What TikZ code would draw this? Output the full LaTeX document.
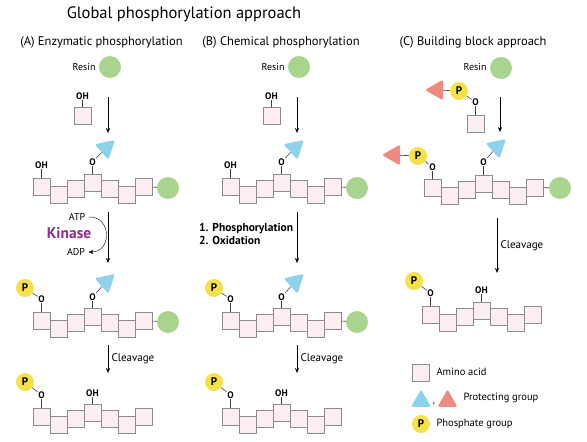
\documentclass[tikz,border=0pt]{standalone}
\usepackage{fontspec}
\setmainfont{PT Sans}
\usetikzlibrary{shapes.geometric,arrows.meta}

\definecolor{aafill}{HTML}{FCEEF0}
\definecolor{aadraw}{HTML}{8C8C8C}
\definecolor{resincol}{HTML}{A9D48E}
\definecolor{protblue}{HTML}{8ED1EC}
\definecolor{protred}{HTML}{EE8A80}
\definecolor{phoscol}{HTML}{F6E14B}
\definecolor{kinasecol}{HTML}{8B2C90}

% seven amino acids in a zigzag: name, left x, top y
\newcommand{\peptide}[3]{%
  \foreach \i/\dy in {1/0,2/8,3/2,4/-4,5/2,6/8,7/0}{
    \node[aa] (#1\i) at ({#2+8.5+17*(\i-1)},{#3+8.5+\dy}) {};
  }%
}

\begin{document}
\begin{tikzpicture}[x=1pt,y=-1pt,>={Stealth[length=5pt,width=4pt]},
    aa/.style={draw=aadraw,fill=aafill,line width=0.8pt,minimum size=17pt,inner sep=0pt},
    resin/.style={circle,fill=resincol,minimum size=22pt,inner sep=0pt},
    phos/.style={circle,fill=phoscol,minimum size=18pt,inner sep=0pt,font=\bfseries\fontsize{11}{11}\selectfont},
    tri/.style={regular polygon,regular polygon sides=3,minimum size=24pt,inner sep=0pt,rounded corners=2pt},
    bluetri/.style={tri,fill=protblue,shape border rotate=-48},
    redtri/.style={tri,fill=protred,shape border rotate=90},
    atom/.style={inner sep=0.5pt,font=\bfseries\fontsize{9.5}{10}\selectfont},
    bond/.style={draw=black!75,line width=0.6pt},
    lbl/.style={font=\fontsize{10}{11}\selectfont},
    cut/.style={font=\fontsize{11}{12}\selectfont},
    legend/.style={anchor=west,font=\fontsize{10.5}{12}\selectfont},
  ]
  \useasboundingbox (0,0) rectangle (587,442);

  \node (title) at (184,14) {\fontsize{16.5}{19}\selectfont Global phosphorylation approach};
  \node (heada) at (101.5,42) {\fontsize{12.5}{14}\selectfont (A) Enzymatic phosphorylation};
  \node (headb) at (281,42) {\fontsize{12.5}{14}\selectfont (B) Chemical phosphorylation};
  \node (headc) at (473,42) {\fontsize{12.5}{14}\selectfont (C) Building block approach};

  % (A) enzymatic
  \node[lbl,anchor=east] (aresintxt) at (99,67) {Resin};
  \node[resin] (aresin) at (110,67) {};
  \node[atom] (a0oh) at (82.5,96) {OH};
  \node[aa] (a0) at (82.5,115.5) {};
  \draw[bond] (a0oh) -- (a0);
  \coordinate (a1s) at (108,97);
  \coordinate (a1e) at (108,133);
  \draw[->] (a1s) -- (a1e);

  \peptide{a1}{33}{178}
  \node[atom] (a1oh) at (41.5,165) {OH};
  \node[atom] (a1o) at (92.5,162) {O};
  \node[bluetri] (a1pg) at (106,148) {};
  \node[resin] (a1res) at (168,188) {};
  \draw[bond] (a1oh) -- (a11);
  \draw[bond] (a1o) -- (a14);
  \draw[bond] (a1o) -- (a1pg);
  \draw[bond] (a17) -- (a1res);

  \coordinate (a2s) at (108,212);
  \coordinate (a2e) at (108,263);
  \draw[->] (a2s) -- (a2e);
  \node[lbl] (atp) at (77,217) {ATP};
  \node[lbl] (adp) at (76,252) {ADP};
  \draw[->] (atp.east) .. controls (112,216) and (112,252) .. (adp.east);
  \node[text=kinasecol,font=\bfseries\fontsize{15.5}{17}\selectfont] (kinase) at (69,233) {Kinase};

  \peptide{a2}{33}{312}
  \node[phos] (a2p) at (25,288) {P};
  \node[atom] (a2o) at (41.5,299) {O};
  \node[atom] (a2o4) at (92.5,297) {O};
  \node[bluetri] (a2pg) at (106,282) {};
  \node[resin] (a2res) at (168,322) {};
  \draw[bond] (a2p) -- (a2o);
  \draw[bond] (a2o) -- (a21);
  \draw[bond] (a2o4) -- (a24);
  \draw[bond] (a2o4) -- (a2pg);
  \draw[bond] (a27) -- (a2res);

  \coordinate (a3s) at (108,345);
  \coordinate (a3e) at (108,373);
  \draw[->] (a3s) -- node[cut,right] (acleave) {Cleavage} (a3e);

  \peptide{a3}{33}{408}
  \node[phos] (a3p) at (25,382) {P};
  \node[atom] (a3o) at (41.5,395) {O};
  \node[atom] (a3oh) at (92.5,393) {OH};
  \draw[bond] (a3p) -- (a3o);
  \draw[bond] (a3o) -- (a31);
  \draw[bond] (a3oh) -- (a34);

  % (B) chemical
  \node[lbl,anchor=east] (bresintxt) at (288,67) {Resin};
  \node[resin] (bresin) at (299,67) {};
  \node[atom] (b0oh) at (271.5,96) {OH};
  \node[aa] (b0) at (271.5,115.5) {};
  \draw[bond] (b0oh) -- (b0);
  \coordinate (b1s) at (297,97);
  \coordinate (b1e) at (297,133);
  \draw[->] (b1s) -- (b1e);

  \peptide{b1}{222}{178}
  \node[atom] (b1oh) at (230.5,165) {OH};
  \node[atom] (b1o) at (281.5,162) {O};
  \node[bluetri] (b1pg) at (295,148) {};
  \node[resin] (b1res) at (357,188) {};
  \draw[bond] (b1oh) -- (b11);
  \draw[bond] (b1o) -- (b14);
  \draw[bond] (b1o) -- (b1pg);
  \draw[bond] (b17) -- (b1res);

  \coordinate (b2s) at (297,212);
  \coordinate (b2e) at (297,263);
  \draw[->] (b2s) -- (b2e);
  \node[anchor=north west,align=left,inner sep=0pt,font=\bfseries\fontsize{11.5}{13.5}\selectfont] (bsteps) at (199,223) {1. Phosphorylation\\2. Oxidation};

  \peptide{b2}{222}{312}
  \node[phos] (b2p) at (214,288) {P};
  \node[atom] (b2o) at (230.5,299) {O};
  \node[atom] (b2o4) at (281.5,297) {O};
  \node[bluetri] (b2pg) at (295,282) {};
  \node[resin] (b2res) at (357,322) {};
  \draw[bond] (b2p) -- (b2o);
  \draw[bond] (b2o) -- (b21);
  \draw[bond] (b2o4) -- (b24);
  \draw[bond] (b2o4) -- (b2pg);
  \draw[bond] (b27) -- (b2res);

  \coordinate (b3s) at (297,345);
  \coordinate (b3e) at (297,373);
  \draw[->] (b3s) -- node[cut,right] (bcleave) {Cleavage} (b3e);

  \peptide{b3}{222}{408}
  \node[phos] (b3p) at (214,382) {P};
  \node[atom] (b3o) at (230.5,395) {O};
  \node[atom] (b3oh) at (281.5,393) {OH};
  \draw[bond] (b3p) -- (b3o);
  \draw[bond] (b3o) -- (b31);
  \draw[bond] (b3oh) -- (b34);

  % (C) building block
  \node[lbl,anchor=east] (cresintxt) at (490,67) {Resin};
  \node[resin] (cresin) at (501,68) {};
  \node[redtri] (c0pg) at (437,90) {};
  \node[phos] (c0p) at (459,91) {P};
  \node[atom] (c0o) at (475.5,102) {O};
  \node[aa] (c0) at (475.5,123.5) {};
  \draw[bond] (c0pg) -- (c0p);
  \draw[bond] (c0p) -- (c0o);
  \draw[bond] (c0o) -- (c0);
  \coordinate (c1s) at (500,97);
  \coordinate (c1e) at (500,132);
  \draw[->] (c1s) -- (c1e);

  \peptide{c1}{424}{179}
  \node[redtri] (c1pg1) at (394,155) {};
  \node[phos] (c1p) at (418,156) {P};
  \node[atom] (c1o) at (432.5,167) {O};
  \node[atom] (c1o4) at (483.5,162) {O};
  \node[bluetri] (c1pg) at (497,147) {};
  \node[resin] (c1res) at (560,188) {};
  \draw[bond] (c1pg1) -- (c1p);
  \draw[bond] (c1p) -- (c1o);
  \draw[bond] (c1o) -- (c11);
  \draw[bond] (c1o4) -- (c14);
  \draw[bond] (c1o4) -- (c1pg);
  \draw[bond] (c17) -- (c1res);

  \coordinate (c2s) at (497,218);
  \coordinate (c2e) at (497,273);
  \draw[->] (c2s) -- node[cut,right] (ccleave) {Cleavage} (c2e);

  \peptide{c2}{422}{306}
  \node[phos] (c2p) at (414,281) {P};
  \node[atom] (c2o) at (430.5,293) {O};
  \node[atom] (c2oh) at (481.5,290) {OH};
  \draw[bond] (c2p) -- (c2o);
  \draw[bond] (c2o) -- (c21);
  \draw[bond] (c2oh) -- (c24);

  % legend
  \node[aa] (keyaa) at (420.5,373) {};
  \node[legend] (keyaatxt) at (433,372) {Amino acid};
  \node[tri,fill=protblue,minimum size=23pt] (keyblue) at (421,401) {};
  \node[font=\fontsize{9}{9}\selectfont] (keycomma) at (434,404) {,};
  \node[tri,fill=protred,minimum size=23pt] (keyred) at (447.5,401) {};
  \node[legend] (keyprottxt) at (460,398) {Protecting group};
  \node[phos] (keyp) at (421,424) {P};
  \node[legend] (keyptxt) at (433,424) {Phosphate group};
\end{tikzpicture}
\end{document}
